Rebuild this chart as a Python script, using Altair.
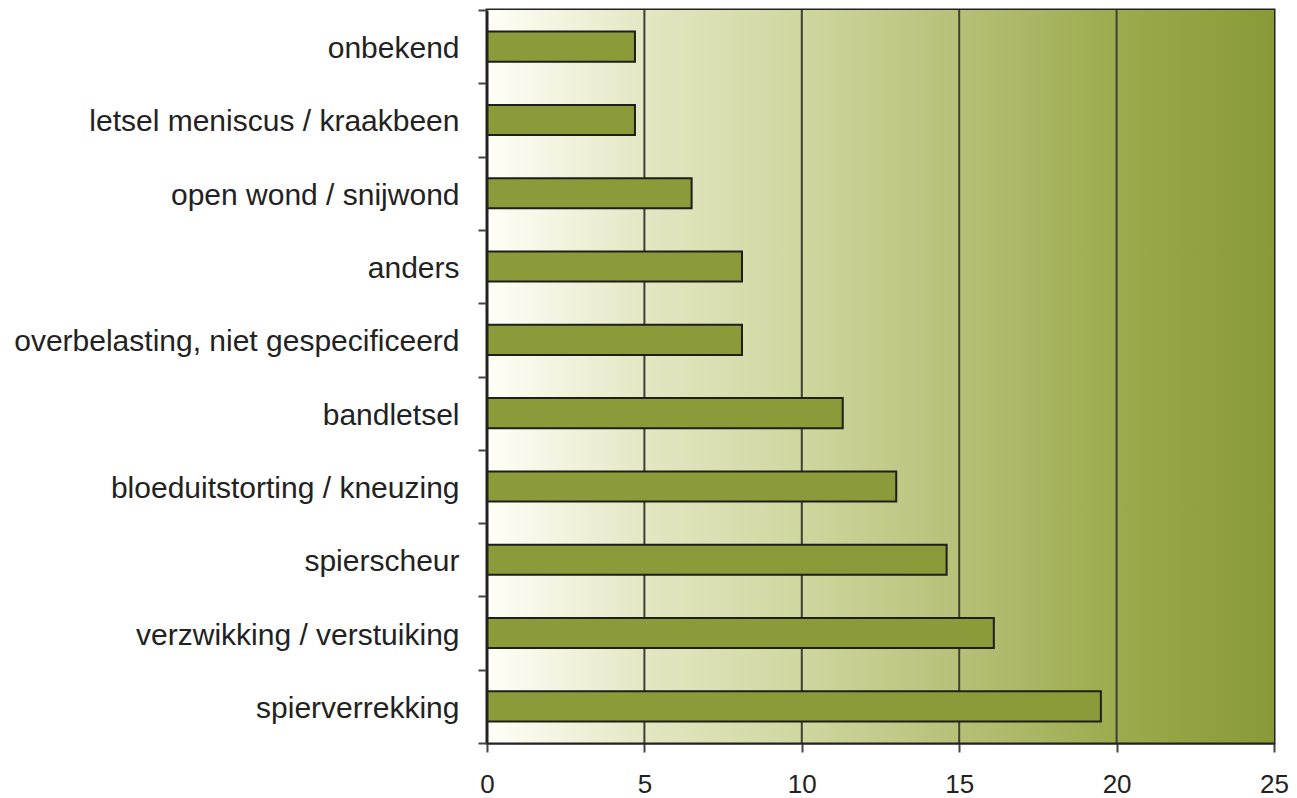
import altair as alt
import pandas as pd

categories = [
    "onbekend",
    "letsel meniscus / kraakbeen",
    "open wond / snijwond",
    "anders",
    "overbelasting, niet gespecificeerd",
    "bandletsel",
    "bloeduitstorting / kneuzing",
    "spierscheur",
    "verzwikking / verstuiking",
    "spierverrekking",
]
values = [4.7, 4.7, 6.5, 8.1, 8.1, 11.3, 13.0, 14.6, 16.1, 19.5]
x_ticks = [0, 5, 10, 15, 20, 25]
grid_values = [5, 10, 15, 20]

W, H = 787, 733

df = pd.DataFrame({"cat": categories, "val": values})
grid_df = pd.DataFrame({"g": grid_values})
bg_df = pd.DataFrame({"a": [0], "b": [25]})

xscale = alt.Scale(domain=[0, 25], nice=False, zero=True)

gradient = alt.Gradient(
    gradient="linear",
    x1=0, x2=1, y1=0, y2=0,
    stops=[
        alt.GradientStop(color="#fffff8", offset=0),
        alt.GradientStop(color="#e3e7c3", offset=0.2),
        alt.GradientStop(color="#cfd79f", offset=0.4),
        alt.GradientStop(color="#b6c077", offset=0.6),
        alt.GradientStop(color="#9cab4d", offset=0.8),
        alt.GradientStop(color="#899a37", offset=1),
    ],
)

bg = alt.Chart(bg_df).mark_rect(color=gradient).encode(
    x=alt.X("a:Q", scale=xscale),
    x2="b:Q",
    y=alt.value(0),
    y2=alt.value(H),
)

grid = alt.Chart(grid_df).mark_rule(color="#3f3f33", strokeWidth=2).encode(
    x=alt.X("g:Q", scale=xscale),
    y=alt.value(0),
    y2=alt.value(H),
)

bars = alt.Chart(df).mark_bar(
    color="#8c9b3a", stroke="#1e1e1a", strokeWidth=2,
    height=alt.RelativeBandSize(band=0.41),
).encode(
    x=alt.X(
        "val:Q",
        scale=xscale,
        axis=alt.Axis(
            values=x_ticks, title=None, grid=False, format="d",
            labelFontSize=26, labelColor="#222", labelFont="Liberation Sans",
            tickSize=9, tickWidth=2, tickColor="#444", labelFlush=False,
            domainColor="#222", domainWidth=2, labelPadding=19,
            zindex=1,
        ),
    ),
    y=alt.Y(
        "cat:N",
        sort=categories,
        scale=alt.Scale(paddingInner=0, paddingOuter=0),
        axis=alt.Axis(
            title=None, grid=False, tickBand="extent", labelLimit=800,
            labelFontSize=30, labelColor="#222", labelFont="Liberation Sans",
            tickSize=9, tickWidth=2, tickColor="#444", labelOffset=2,
            domainColor="#222", domainWidth=2, labelPadding=19,
            zindex=1,
        ),
    ),
)

chart = alt.layer(bg, grid, bars).properties(
    width=W,
    height=H,
    autosize=alt.AutoSizeParams(type="none"),
    padding={"left": 487, "top": 10, "right": 23, "bottom": 55},
    background="white",
).configure_view(stroke="#222", strokeWidth=3)

chart.save("out.html", embed_options={"renderer": "svg", "actions": False})
